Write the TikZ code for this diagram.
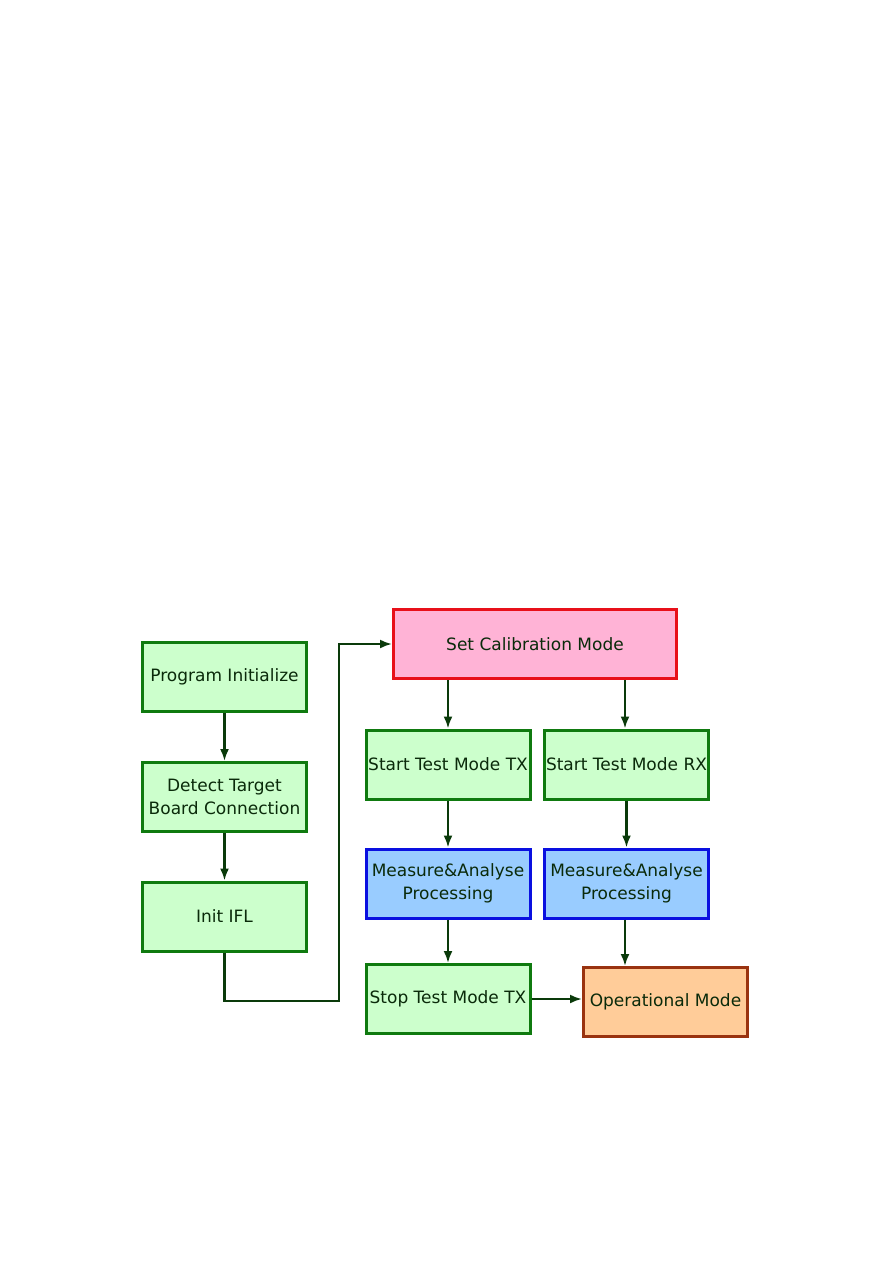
\documentclass[tikz,border=0pt]{standalone}
\usepackage{fontspec}
\setmainfont{DejaVu Sans}
\usetikzlibrary{arrows.meta}
\definecolor{gfill}{HTML}{CCFFCC}
\definecolor{gdraw}{HTML}{0F7A0F}
\definecolor{pfill}{HTML}{FFB3D6}
\definecolor{pdraw}{HTML}{E8101A}
\definecolor{bfill}{HTML}{99CCFF}
\definecolor{bdraw}{HTML}{0A10E0}
\definecolor{ofill}{HTML}{FFCC99}
\definecolor{odraw}{HTML}{993310}
\definecolor{txt}{HTML}{0A2A0A}
\definecolor{arr}{HTML}{0A3A0A}
\tikzset{
  box/.style={draw, line width=3pt, minimum width=164pt, minimum height=69pt, inner sep=0pt, align=center, text=txt, font=\fontsize{17}{23.5}\selectfont},
  gbox/.style={box, fill=gfill, draw=gdraw},
  pbox/.style={box, fill=pfill, draw=pdraw, minimum width=283pt},
  bbox/.style={box, fill=bfill, draw=bdraw},
  obox/.style={box, fill=ofill, draw=odraw},
  conn/.style={draw=arr, line width=2.2pt, -{Latex[length=12pt,width=9pt]}},
}
\begin{document}
\begin{tikzpicture}[x=1pt,y=-1pt]
\useasboundingbox (0,0) rectangle (893,1263);
\node[gbox] (prog) at (224.5,677) {Program Initialize};
\node[gbox] (detect) at (224.5,797) {Detect Target\\Board Connection};
\node[gbox] (init) at (224.5,916.5) {Init IFL};
\node[pbox] (setcal) at (535,644) {Set Calibration Mode};
\node[gbox] (starttx) at (448,764.5) {Start Test Mode TX};
\node[gbox] (startrx) at (626.5,764.5) {Start Test Mode RX};
\node[bbox] (meastx) at (448,883.5) {Measure\&Analyse\\Processing};
\node[bbox] (measrx) at (626.5,883.5) {Measure\&Analyse\\Processing};
\node[gbox] (stoptx) at (448,999) {Stop Test Mode TX};
\node[obox] (oper) at (665.5,1002) {Operational Mode};
\coordinate (c1) at (339,1001);
\coordinate (c2) at (339,644);
\draw[conn] (prog) -- (detect);
\draw[conn] (detect) -- (init);
\draw[conn] (init.south) |- (c1) -- (c2) -- (setcal.west);
\draw[conn] (setcal.south -| starttx) -- (starttx);
\draw[conn] (setcal.south -| 625,0) -- (625,0 |- startrx.north);
\draw[conn] (starttx) -- (meastx);
\draw[conn] (startrx) -- (measrx);
\draw[conn] (meastx) -- (stoptx);
\draw[conn] (measrx.south -| 625,0) -- (625,0 |- oper.north);
\draw[conn] (stoptx.east) -- (stoptx.east -| oper.west);
\end{tikzpicture}
\end{document}
